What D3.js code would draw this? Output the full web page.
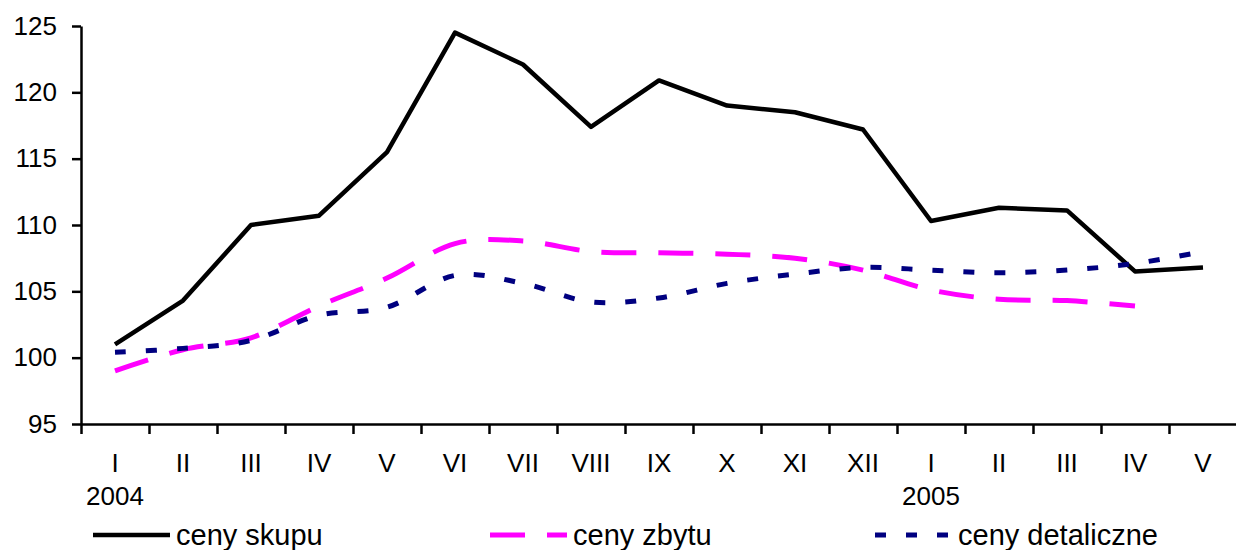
<!DOCTYPE html>
<html>
<head>
<meta charset="utf-8">
<script src="https://cdn.jsdelivr.net/npm/d3@7"></script>
<style>
  body { margin: 0; background: #fff; }
  text { font-family: "Liberation Sans", Arial, sans-serif; fill: #000; }
</style>
</head>
<body>
<svg id="chart" width="1236" height="550"></svg>
<script>
// months (roman), year labels under first month of each year
const months = ["I","II","III","IV","V","VI","VII","VIII","IX","X","XI","XII","I","II","III","IV","V"];
const years = [{idx: 0, label: "2004"}, {idx: 12, label: "2005"}];
const yTicks = [95, 100, 105, 110, 115, 120, 125];

// series
const cenySkupu = [101.0, 104.3, 110.0, 110.7, 115.5, 124.5, 122.1, 117.4, 120.9, 119.0, 118.5, 117.2, 110.3, 111.3, 111.1, 106.5, 106.8];
const cenyZbytu = [99.0, 100.6, 101.5, 103.9, 106.0, 108.6, 108.8, 108.0, 107.9, 107.8, 107.5, 106.6, 105.1, 104.4, 104.3, 103.9, null];
const cenyDetal = [100.4, 100.7, 101.3, 103.2, 103.8, 106.2, 105.6, 104.2, 104.5, 105.6, 106.3, 106.8, 106.6, 106.4, 106.6, 107.1, 108.0];

const svg = d3.select("#chart");

let x = d3.scaleBand().domain(d3.range(months.length)).range([81, 1237]).padding(0);
let xb = d3.scaleLinear().domain([0, months.length]).range([81, 1237]); // category boundaries
let y = d3.scaleLinear().domain([95, 125]).range([424, 26]);

// y axis
let yAxis = svg.append("g")
    .attr("transform", "translate(81,0)")
    .call(d3.axisLeft(y).tickValues(yTicks).tickSize(9).tickSizeOuter(0).tickPadding(15));
yAxis.select(".domain").attr("stroke", "#000").attr("stroke-width", 2.5);
yAxis.selectAll(".tick line").attr("stroke", "#000").attr("stroke-width", 2.5);
yAxis.selectAll("text").attr("font-size", 26).attr("font-family", "Liberation Sans, Arial, sans-serif").attr("fill", "#000");

// x axis - ticks between categories
let xAxis = svg.append("g")
    .attr("transform", "translate(0,424)")
    .call(d3.axisBottom(xb).tickValues(d3.range(months.length + 1)).tickSize(10).tickSizeOuter(0).tickFormat(""));
xAxis.select(".domain").attr("stroke", "#000").attr("stroke-width", 2.5);
xAxis.selectAll(".tick line").attr("stroke", "#000").attr("stroke-width", 2.5);

svg.append("g").selectAll("text")
    .data(months)
    .enter()
    .append("text")
    .attr("x", (d, i) => x(i) + x.bandwidth() / 2)
    .attr("y", 472)
    .attr("text-anchor", "middle")
    .attr("font-size", 26)
    .text(d => d);

svg.append("g").selectAll("text")
    .data(years)
    .enter()
    .append("text")
    .attr("x", d => x(d.idx) + x.bandwidth() / 2)
    .attr("y", 505)
    .attr("text-anchor", "middle")
    .attr("font-size", 26)
    .text(d => d.label);

// lines
let series = [
  {name: "ceny skupu", values: cenySkupu, color: "#000000", width: 4.5, dash: null, curve: d3.curveLinear},
  {name: "ceny zbytu", values: cenyZbytu, color: "#ff00ff", width: 5, dash: "35,22", curve: d3.curveCatmullRom.alpha(0)},
  {name: "ceny detaliczne", values: cenyDetal, color: "#000080", width: 5, dash: "11,20", curve: d3.curveCatmullRom.alpha(0)}
];

series.forEach(s => {
  let line = d3.line()
      .defined(d => d != null)
      .x((d, i) => x(i) + x.bandwidth() / 2)
      .y(d => y(d))
      .curve(s.curve);
  svg.append("path")
      .datum(s.values)
      .attr("d", line)
      .attr("fill", "none")
      .attr("stroke", s.color)
      .attr("stroke-width", s.width)
      .attr("stroke-dasharray", s.dash)
      .attr("stroke-linejoin", "round")
      .attr("stroke-linecap", "butt");
});

// legend
let legendPos = [93, 490, 875];
let legend = svg.append("g").selectAll("g")
    .data(series)
    .enter()
    .append("g")
    .attr("transform", (d, i) => "translate(" + legendPos[i] + ",535)");

legend.append("line")
    .attr("x1", 0)
    .attr("x2", (d, i) => i == 2 ? 73 : 77)
    .attr("y1", 0)
    .attr("y2", 0)
    .attr("stroke", d => d.color)
    .attr("stroke-width", d => d.width)
    .attr("stroke-dasharray", d => d.dash);

legend.append("text")
    .attr("x", (d, i) => i == 2 ? 83 : 83)
    .attr("y", 10)
    .attr("font-size", 29)
    .text(d => d.name);
</script>
</body>
</html>
